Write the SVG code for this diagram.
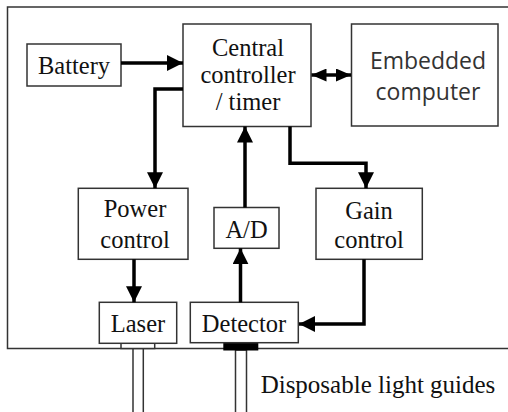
<svg xmlns="http://www.w3.org/2000/svg" width="508" height="412" viewBox="0 0 508 412">
<defs>
<style>
.box{fill:#fff;stroke:#333;stroke-width:1.5}
.t{font-family:'Liberation Serif','Times New Roman',serif;font-size:24.5px;fill:#111;text-anchor:middle}
.s{font-family:'Open Sans','Liberation Sans',sans-serif;font-size:23px;fill:#333;text-anchor:middle}
.c{fill:none;stroke:#000;stroke-width:3.5}
.thin{fill:none;stroke:#333;stroke-width:1.5}
</style>
<marker id="ah" viewBox="0 0 16 16" refX="16" refY="8" markerWidth="16" markerHeight="16" markerUnits="userSpaceOnUse" orient="auto"><path d="M0,0 L16,8 L0,16 z" fill="#000"/></marker>
<marker id="ah2" viewBox="0 0 15 13" refX="15" refY="6.5" markerWidth="15" markerHeight="13" markerUnits="userSpaceOnUse" orient="auto-start-reverse"><path d="M0,0 L15,6.5 L0,13 z" fill="#000"/></marker>
</defs>
<rect width="508" height="412" fill="#fff"/>
<path class="thin" d="M508,7 H7.5 V348.5 H508"/>
<g id="guides">
<rect x="133" y="348.5" width="10.3" height="70" fill="#fff" stroke="#333" stroke-width="1.5"/>
<rect x="235.5" y="350" width="11" height="70" fill="#fff" stroke="#333" stroke-width="1.5"/>
<rect x="121" y="341" width="33.7" height="7.5" fill="#fff" stroke="#333" stroke-width="1.5"/>
<rect x="223.3" y="342" width="35" height="8.5" fill="#000"/>
</g>
<g id="battery"><rect class="box" x="27" y="44" width="94" height="42"/><text class="t" x="74" y="74">Battery</text></g>
<g id="central"><rect class="box" x="183" y="24" width="128" height="102.5"/><text class="t" x="248" y="56">Central</text><text class="t" x="248" y="83">controller</text><text class="t" x="248" y="110">/ timer</text></g>
<g id="embedded"><rect class="box" x="351.5" y="24" width="146.5" height="102"/><text class="s" x="428" y="69">Embedded</text><text class="s" x="428" y="100">computer</text></g>
<g id="power"><rect class="box" x="78.3" y="188.3" width="109.7" height="71"/><text class="t" x="135" y="217">Power</text><text class="t" x="135" y="247.5">control</text></g>
<g id="ad"><rect class="box" x="214" y="207.5" width="65" height="40.8"/><text class="t" x="246.5" y="238.3">A/D</text></g>
<g id="gain"><rect class="box" x="316" y="188.3" width="106.3" height="71"/><text class="t" x="369" y="219">Gain</text><text class="t" x="369" y="247.5">control</text></g>
<g id="laser"><rect class="box" x="99.3" y="302.3" width="77.4" height="41"/><text class="t" x="138" y="332.3">Laser</text></g>
<g id="detector"><rect class="box" x="190.3" y="302.3" width="108" height="40.4"/><text class="t" x="244" y="332.3">Detector</text></g>
<text class="t" x="378" y="393" style="font-size:25px">Disposable light guides</text>
<g id="connectors">
<path class="c" d="M121,63 H183" marker-end="url(#ah)"/>
<path class="c" d="M311.5,75 H351" marker-start="url(#ah2)" marker-end="url(#ah2)"/>
<path class="c" d="M183,89 H155 V188.3" marker-end="url(#ah)"/>
<path class="c" d="M290,126.5 V163.3 H366 V188.3" marker-end="url(#ah)"/>
<path class="c" d="M245,207.5 V126.5" marker-end="url(#ah)"/>
<path class="c" d="M240.5,302.3 V248.3" marker-end="url(#ah)"/>
<path class="c" d="M134,259.3 V302.3" marker-end="url(#ah)"/>
<path class="c" d="M364,259.3 V324 H299" marker-end="url(#ah)"/>
</g>
</svg>
